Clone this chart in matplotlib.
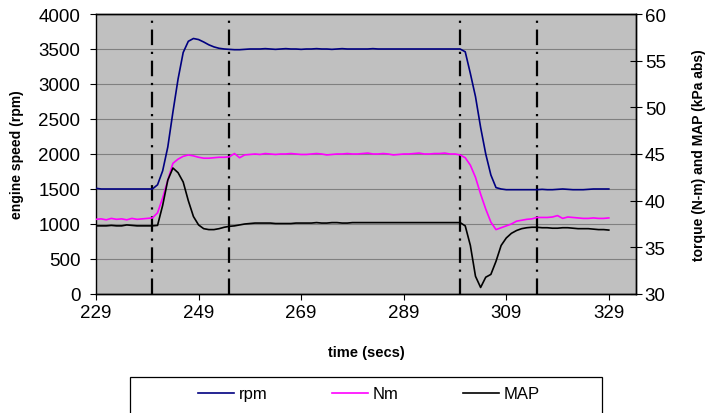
import matplotlib
matplotlib.use("Agg")
import matplotlib.pyplot as plt
from matplotlib.patches import Rectangle
import numpy as np

plt.rcParams['font.family'] = ['Liberation Sans', 'DejaVu Sans']

time_s = list(range(229, 330))

rpm = [1510, 1500, 1500, 1500, 1500, 1500, 1500, 1500, 1500, 1500, 1500, 1500,  # 229-240
       1560, 1760, 2100, 2600, 3070, 3450, 3610, 3650, 3635, 3600,              # 241-250
       3560, 3530, 3510, 3500, 3495, 3490, 3490, 3495, 3500, 3500,              # 251-260
       3500, 3505, 3500, 3495, 3500, 3505, 3500, 3500, 3495, 3500,              # 261-270
       3500, 3505, 3500, 3500, 3495, 3500, 3505, 3500, 3500, 3500,              # 271-280
       3500, 3500, 3505, 3500, 3500, 3500, 3500, 3500, 3500, 3500,              # 281-290
       3500, 3500, 3500, 3500, 3500, 3500, 3500, 3500, 3500, 3500,              # 291-300
       3460, 3150, 2820, 2380, 2000, 1700, 1520, 1500, 1490, 1490,              # 301-310
       1490, 1490, 1490, 1490, 1490, 1495, 1490, 1490, 1495, 1500,              # 311-320
       1495, 1490, 1490, 1490, 1495, 1500, 1500, 1500, 1500]                    # 321-329

nm = [38.0, 38.05, 37.95, 38.1, 38.0, 38.05, 37.95, 38.1, 38.0, 38.05, 38.1, 38.15,   # 229-240
      38.7, 40.3, 42.2, 44.0, 44.45, 44.75, 44.9, 44.8, 44.65, 44.55,                 # 241-250
      44.55, 44.6, 44.65, 44.65, 44.7, 45.05, 44.6, 44.9, 44.95, 45.0,                # 251-260
      44.95, 45.05, 45.0, 44.95, 45.0, 45.0, 45.05, 45.0, 44.95, 44.95,               # 261-270
      45.0, 45.05, 45.0, 44.9, 44.95, 45.0, 45.0, 45.05, 45.0, 45.0,                  # 271-280
      45.05, 45.1, 45.0, 45.0, 45.05, 45.0, 44.9, 44.95, 45.0, 45.0,                  # 281-290
      45.05, 45.1, 45.0, 45.0, 45.05, 45.05, 45.1, 45.0, 45.0, 44.9,                  # 291-300
      44.6, 43.8, 42.5, 40.7, 39.1, 37.7, 36.9, 37.1, 37.3, 37.5,                     # 301-310
      37.8, 37.9, 38.0, 38.05, 38.2, 38.2, 38.2, 38.25, 38.4, 38.1,                   # 311-320
      38.25, 38.2, 38.15, 38.1, 38.1, 38.15, 38.1, 38.1, 38.15]                       # 321-329

map_kpa = [37.3, 37.3, 37.3, 37.35, 37.3, 37.3, 37.4, 37.35, 37.3, 37.3, 37.3, 37.3,  # 229-240
           37.35, 39.5, 42.2, 43.5, 43.0, 42.0, 40.0, 38.3, 37.4, 37.0,               # 241-250
           36.9, 36.9, 37.0, 37.15, 37.25, 37.3, 37.4, 37.5, 37.55, 37.6,             # 251-260
           37.6, 37.6, 37.6, 37.55, 37.55, 37.55, 37.55, 37.6, 37.6, 37.6,            # 261-270
           37.6, 37.65, 37.6, 37.6, 37.65, 37.65, 37.6, 37.6, 37.65, 37.65,           # 271-280
           37.65, 37.65, 37.65, 37.65, 37.65, 37.65, 37.65, 37.65, 37.65, 37.65,      # 281-290
           37.65, 37.65, 37.65, 37.65, 37.65, 37.65, 37.65, 37.65, 37.65, 37.65,      # 291-300
           37.3, 35.2, 31.9, 30.7, 31.8, 32.1, 33.5, 35.2, 36.0, 36.5,                # 301-310
           36.8, 37.0, 37.1, 37.15, 37.15, 37.1, 37.1, 37.05, 37.05, 37.1,            # 311-320
           37.1, 37.05, 37.0, 37.0, 37.0, 36.95, 36.9, 36.9, 36.85]                   # 321-329

event_times = [240, 255, 300, 315]
x_ticks = [229, 249, 269, 289, 309, 329]
left_ticks = [0, 500, 1000, 1500, 2000, 2500, 3000, 3500, 4000]
right_ticks = [30, 35, 40, 45, 50, 55, 60]

W, H = 706, 414
fig = plt.figure(figsize=(W / 100, H / 100), dpi=100)
ax = fig.add_axes([96 / W, 1 - 295 / H, (636 - 96) / W, (295 - 15) / H])
ax2 = ax.twinx()

ax.set_facecolor('#C0C0C0')
ax.set_xlim(229, 334.3)
ax.set_ylim(0, 4000)
ax2.set_ylim(30, 60)
ax.set_yticks(left_ticks)
ax2.set_yticks(right_ticks)
ax.set_xticks(x_ticks)
ax.grid(axis='y', color='#808080', linewidth=0.8)
ax.set_axisbelow(True)

l1, = ax.plot(time_s, rpm, color='#000080', lw=1.2, label='rpm', zorder=3)
l2, = ax2.plot(time_s, nm, color='#FF00FF', lw=1.2, label='Nm', zorder=3)
l3, = ax2.plot(time_s, map_kpa, color='#000000', lw=1.2, label='MAP', zorder=3)

for t in event_times:
    ax.axvline(t, color='black', lw=1.6, dashes=(7, 3, 1, 3), zorder=2)

for a in (ax, ax2):
    for s in a.spines.values():
        s.set_color('black')
        s.set_linewidth(1.0)
ax2.spines['left'].set_visible(False)

ax.tick_params(axis='y', labelsize=13.5, length=4.3, width=0.8, pad=7, colors='black')
ax.tick_params(axis='x', labelsize=13.5, length=4.5, width=0.8, pad=3, colors='black')
ax2.tick_params(axis='y', labelsize=13.5, length=8.6, width=0.8, pad=2, direction='inout',
                colors='black')

ax.set_xlabel('time (secs)', fontsize=10.5, fontweight='bold', labelpad=17)
ax.set_ylabel('engine speed (rpm)', fontsize=10, fontweight='bold', labelpad=10)
ax2.set_ylabel('torque (N-m) and MAP (kPa abs)', fontsize=10, fontweight='bold', labelpad=19)

fig.patches.append(Rectangle((130 / W, -0.05), (602 - 130) / W, 1 - 378 / H + 0.05,
                             transform=fig.transFigure, fill=False, edgecolor='black',
                             lw=0.9, clip_on=False))
fig.legend(handles=[l1, l2, l3], loc='center', bbox_to_anchor=(369 / W, 1 - 395 / H),
           ncol=3, frameon=False, fontsize=12, handlelength=2.16, handletextpad=0.25,
           columnspacing=3.9)

fig.savefig('out.png', dpi=100, facecolor='white')
